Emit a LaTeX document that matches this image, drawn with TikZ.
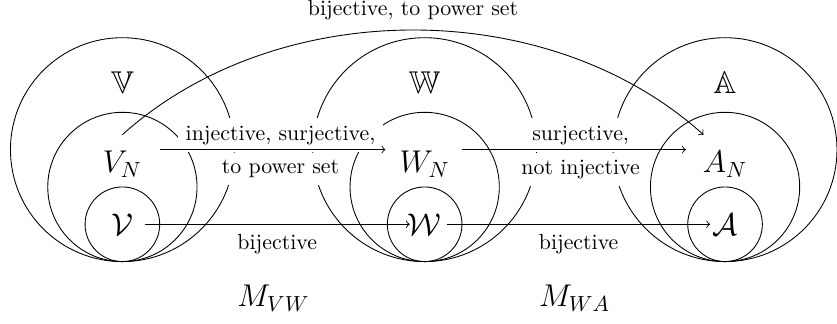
\documentclass[tikz,border=0pt]{standalone}
\usepackage{amsmath,amssymb}
\usepackage{tikz}
\usetikzlibrary{calc}

\begin{document}
\begin{tikzpicture}[scale=0.6,
  setname/.style={font=\Large},
  maplbl/.style={fill=white, behind path, yshift=-1.2pt}]
\useasboundingbox (-3.28,-1.67) rectangle (19.15,7.01);
% the three nested families
\foreach \n/\x/\L in {v/0/V, w/8.1/W, a/16.15/A}{
  \draw (\x,3) circle (3);
  \draw (\x,2) circle (2);
  \draw (\x,1) circle (1);
  \node[setname] (\n-bb) at (\x,4.8) {$\mathbb{\L}$};
  \node[setname] (\n-N) at (\x,2.6) {$\L_N$};
  \node[setname] (\n-cal) at (\x,1) {$\mathcal{\L}$};
  \coordinate (\n-Nout) at (\x+1,3);
  \coordinate (\n-Nin) at (\x-1.05,3);
  \coordinate (\n-out) at (\x+0.6,1);
  \coordinate (\n-in) at (\x-0.4,1);
}
% maps
\draw[->] (v-Nout) -- node[maplbl, above, pos=0.535] {injective, surjective,}
  node[maplbl, below, pos=0.535] {to power set} (w-Nin);
\draw[->] (w-Nout) -- node[maplbl, above, pos=0.53] {surjective,}
  node[maplbl, below, pos=0.53] {not injective} (a-Nin);
\draw[->] (v-out) -- node[maplbl, below] {bijective} (w-in);
\draw[->] (w-out) -- node[maplbl, below] {bijective} (a-in);
\coordinate (bij-s) at (0,3.4);
\coordinate (bij-e) at (15.57,3.4);
\draw[->] (bij-s) to[out=42, in=138, looseness=0.92] (bij-e);
\node (bij-lbl) at (7.79,6.73) {bijective, to power set};
\node[setname] (m-vw) at (4.05,-0.99) {$M_{VW}$};
\node[setname] (m-wa) at (12.12,-0.99) {$M_{WA}$};
\end{tikzpicture}
\end{document}
